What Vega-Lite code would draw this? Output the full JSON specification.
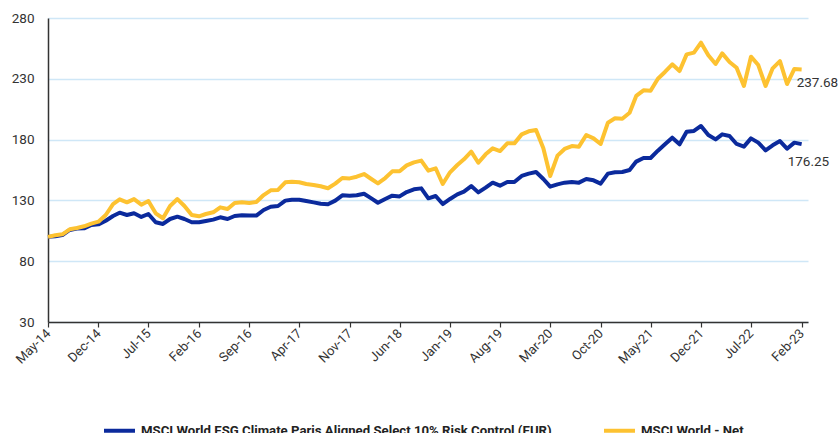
{
  "$schema": "https://vega.github.io/schema/vega-lite/v6.json",
  "width": 760,
  "height": 304,
  "autosize": {"type": "none"},
  "padding": {"left": 48, "top": 18, "right": 30, "bottom": 111},
  "background": "white",
  "config": {"view": {"stroke": null}, "font": "Roboto"},
  "data": {"values": [
    {"d":"2014-05-01","esg":100,"world":100},
    {"d":"2014-06-01","esg":100.5,"world":101.3},
    {"d":"2014-07-01","esg":101.5,"world":102.1},
    {"d":"2014-08-01","esg":105.7,"world":106.2},
    {"d":"2014-09-01","esg":106.8,"world":107.3},
    {"d":"2014-10-01","esg":107.0,"world":108.7},
    {"d":"2014-11-01","esg":109.8,"world":110.9},
    {"d":"2014-12-01","esg":110.3,"world":112.5},
    {"d":"2015-01-01","esg":113.3,"world":118.0},
    {"d":"2015-02-01","esg":117.2,"world":127.0},
    {"d":"2015-03-01","esg":119.9,"world":130.9},
    {"d":"2015-04-01","esg":118.0,"world":128.4},
    {"d":"2015-05-01","esg":119.4,"world":131.1},
    {"d":"2015-06-01","esg":116.4,"world":126.5},
    {"d":"2015-07-01","esg":118.8,"world":129.5},
    {"d":"2015-08-01","esg":112.0,"world":119.4},
    {"d":"2015-09-01","esg":110.6,"world":115.3},
    {"d":"2015-10-01","esg":114.7,"world":125.4},
    {"d":"2015-11-01","esg":116.6,"world":131.1},
    {"d":"2015-12-01","esg":114.7,"world":125.4},
    {"d":"2016-01-01","esg":112.0,"world":118.0},
    {"d":"2016-02-01","esg":112.0,"world":116.9},
    {"d":"2016-03-01","esg":113.1,"world":118.8},
    {"d":"2016-04-01","esg":114.2,"world":120.2},
    {"d":"2016-05-01","esg":116.1,"world":124.3},
    {"d":"2016-06-01","esg":114.7,"world":122.9},
    {"d":"2016-07-01","esg":117.2,"world":127.9},
    {"d":"2016-08-01","esg":117.7,"world":128.4},
    {"d":"2016-09-01","esg":117.5,"world":127.9},
    {"d":"2016-10-01","esg":117.5,"world":128.7},
    {"d":"2016-11-01","esg":122.1,"world":134.4},
    {"d":"2016-12-01","esg":124.8,"world":138.3},
    {"d":"2017-01-01","esg":125.4,"world":138.6},
    {"d":"2017-02-01","esg":129.8,"world":144.9},
    {"d":"2017-03-01","esg":130.6,"world":145.4},
    {"d":"2017-04-01","esg":130.6,"world":144.9},
    {"d":"2017-05-01","esg":129.5,"world":143.5},
    {"d":"2017-06-01","esg":128.4,"world":142.7},
    {"d":"2017-07-01","esg":127.3,"world":141.6},
    {"d":"2017-08-01","esg":126.8,"world":140.0},
    {"d":"2017-09-01","esg":129.8,"world":143.8},
    {"d":"2017-10-01","esg":134.2,"world":148.4},
    {"d":"2017-11-01","esg":133.9,"world":148.1},
    {"d":"2017-12-01","esg":134.2,"world":149.5},
    {"d":"2018-01-01","esg":135.5,"world":151.7},
    {"d":"2018-02-01","esg":131.7,"world":147.6},
    {"d":"2018-03-01","esg":128.1,"world":144.0},
    {"d":"2018-04-01","esg":131.2,"world":148.4},
    {"d":"2018-05-01","esg":133.9,"world":153.9},
    {"d":"2018-06-01","esg":133.3,"world":153.9},
    {"d":"2018-07-01","esg":136.9,"world":158.8},
    {"d":"2018-08-01","esg":139.1,"world":161.3},
    {"d":"2018-09-01","esg":139.9,"world":162.7},
    {"d":"2018-10-01","esg":131.7,"world":154.5},
    {"d":"2018-11-01","esg":133.6,"world":156.4},
    {"d":"2018-12-01","esg":127.0,"world":143.5},
    {"d":"2019-01-01","esg":131.2,"world":153.1},
    {"d":"2019-02-01","esg":135.0,"world":159.1},
    {"d":"2019-03-01","esg":137.2,"world":163.8},
    {"d":"2019-04-01","esg":141.8,"world":170.1},
    {"d":"2019-05-01","esg":136.6,"world":161.0},
    {"d":"2019-06-01","esg":140.5,"world":167.9},
    {"d":"2019-07-01","esg":144.6,"world":172.8},
    {"d":"2019-08-01","esg":142.1,"world":170.6},
    {"d":"2019-09-01","esg":145.1,"world":176.9},
    {"d":"2019-10-01","esg":145.1,"world":176.9},
    {"d":"2019-11-01","esg":150.1,"world":184.3},
    {"d":"2019-12-01","esg":152.0,"world":186.8},
    {"d":"2020-01-01","esg":153.4,"world":187.9},
    {"d":"2020-02-01","esg":147.6,"world":172.8},
    {"d":"2020-03-01","esg":141.3,"world":150.1},
    {"d":"2020-04-01","esg":143.2,"world":166.8},
    {"d":"2020-05-01","esg":144.6,"world":172.3},
    {"d":"2020-06-01","esg":145.1,"world":174.7},
    {"d":"2020-07-01","esg":144.6,"world":174.2},
    {"d":"2020-08-01","esg":147.6,"world":183.8},
    {"d":"2020-09-01","esg":146.5,"world":181.0},
    {"d":"2020-10-01","esg":143.8,"world":176.4},
    {"d":"2020-11-01","esg":152.0,"world":193.9},
    {"d":"2020-12-01","esg":153.1,"world":197.5},
    {"d":"2021-01-01","esg":153.4,"world":197.2},
    {"d":"2021-02-01","esg":155.0,"world":202.1},
    {"d":"2021-03-01","esg":161.9,"world":215.9},
    {"d":"2021-04-01","esg":164.9,"world":220.5},
    {"d":"2021-05-01","esg":164.9,"world":220.2},
    {"d":"2021-06-01","esg":170.9,"world":230.1},
    {"d":"2021-07-01","esg":176.1,"world":235.6},
    {"d":"2021-08-01","esg":181.6,"world":241.9},
    {"d":"2021-09-01","esg":176.1,"world":236.4},
    {"d":"2021-10-01","esg":186.5,"world":250.1},
    {"d":"2021-11-01","esg":187.1,"world":251.5},
    {"d":"2021-12-01","esg":191.2,"world":259.7},
    {"d":"2022-01-01","esg":183.8,"world":249.3},
    {"d":"2022-02-01","esg":180.2,"world":242.2},
    {"d":"2022-03-01","esg":184.3,"world":250.9},
    {"d":"2022-04-01","esg":183.0,"world":243.8},
    {"d":"2022-05-01","esg":176.4,"world":239.1},
    {"d":"2022-06-01","esg":174.2,"world":224.1},
    {"d":"2022-07-01","esg":181.0,"world":248.2},
    {"d":"2022-08-01","esg":177.5,"world":241.3},
    {"d":"2022-09-01","esg":171.2,"world":224.1},
    {"d":"2022-10-01","esg":175.3,"world":238.6},
    {"d":"2022-11-01","esg":178.8,"world":244.6},
    {"d":"2022-12-01","esg":172.5,"world":225.7},
    {"d":"2023-01-01","esg":177.5,"world":238.1},
    {"d":"2023-02-01","esg":176.25,"world":237.68}
  ]},
  "transform": [{"fold": ["esg", "world"], "as": ["key", "value"]}],
  "encoding": {
    "x": {
      "field": "d", "type": "temporal",
      "scale": {"domain": [{"year": 2014, "month": 5, "date": 1}, {"year": 2023, "month": 2, "date": 28}]},
      "axis": {
        "title": null,
        "values": [
          {"year": 2014, "month": 5, "date": 1}, {"year": 2014, "month": 12, "date": 1},
          {"year": 2015, "month": 7, "date": 1}, {"year": 2016, "month": 2, "date": 1},
          {"year": 2016, "month": 9, "date": 1}, {"year": 2017, "month": 4, "date": 1},
          {"year": 2017, "month": 11, "date": 1}, {"year": 2018, "month": 6, "date": 1},
          {"year": 2019, "month": 1, "date": 1}, {"year": 2019, "month": 8, "date": 1},
          {"year": 2020, "month": 3, "date": 1}, {"year": 2020, "month": 10, "date": 1},
          {"year": 2021, "month": 5, "date": 1}, {"year": 2021, "month": 12, "date": 1},
          {"year": 2022, "month": 7, "date": 1}, {"year": 2023, "month": 2, "date": 1}
        ],
        "format": "%b-%y",
        "labelAngle": -45,
        "labelAlign": "right",
        "labelBaseline": "middle",
        "labelFontSize": 13,
        "labelColor": "#333333",
        "labelPadding": 4,
        "labelFlush": false,
        "labelOverlap": false,
        "domainColor": "#333333",
        "domainWidth": 1.5,
        "tickColor": "#333333",
        "tickSize": 5,
        "tickWidth": 1.2,
        "grid": false
      }
    },
    "y": {
      "field": "value", "type": "quantitative",
      "scale": {"domain": [30, 280], "nice": false, "zero": false},
      "axis": {
        "title": null,
        "values": [30, 80, 130, 180, 230, 280],
        "grid": true,
        "gridColor": "#cfe7f7",
        "gridWidth": 1.5,
        "ticks": false,
        "labelFontSize": 13.5,
        "labelColor": "#333333",
        "labelPadding": 14,
        "domainColor": "#333333",
        "domainWidth": 1.5
      }
    }
  },
  "layer": [
    {
      "mark": {"type": "line", "strokeWidth": 4, "strokeJoin": "round"},
      "encoding": {
        "color": {
          "field": "key", "type": "nominal",
          "scale": {"domain": ["esg", "world"], "range": ["#0b2a9c", "#fdc231"]},
          "legend": {
            "title": null,
            "orient": "none",
            "legendX": 54,
            "legendY": 395,
            "direction": "horizontal",
            "symbolType": "stroke",
            "symbolSize": 961,
            "symbolStrokeWidth": 4,
            "labelFontSize": 13.2,
            "labelFontWeight": "bold",
            "labelColor": "#222222",
            "labelLimit": 700,
            "labelOffset": 4,
            "columnPadding": 44,
            "labelExpr": "datum.value == 'esg' ? 'MSCI World ESG Climate Paris Aligned Select 10% Risk Control (EUR)' : 'MSCI World - Net'"
          }
        }
      }
    },
    {
      "transform": [{"filter": "utcyear(datum.d) == 2023 && utcmonth(datum.d) == 1 && datum.key == 'world'"}],
      "mark": {"type": "text", "align": "left", "baseline": "middle", "dx": -5, "dy": 14, "fontSize": 13.5, "color": "#333333"},
      "encoding": {"text": {"field": "value", "type": "quantitative", "format": ".2f"}}
    },
    {
      "transform": [{"filter": "utcyear(datum.d) == 2023 && utcmonth(datum.d) == 1 && datum.key == 'esg'"}],
      "mark": {"type": "text", "align": "left", "baseline": "middle", "dx": -14, "dy": 18, "fontSize": 13.5, "color": "#333333"},
      "encoding": {"text": {"field": "value", "type": "quantitative", "format": ".2f"}}
    }
  ]
}
